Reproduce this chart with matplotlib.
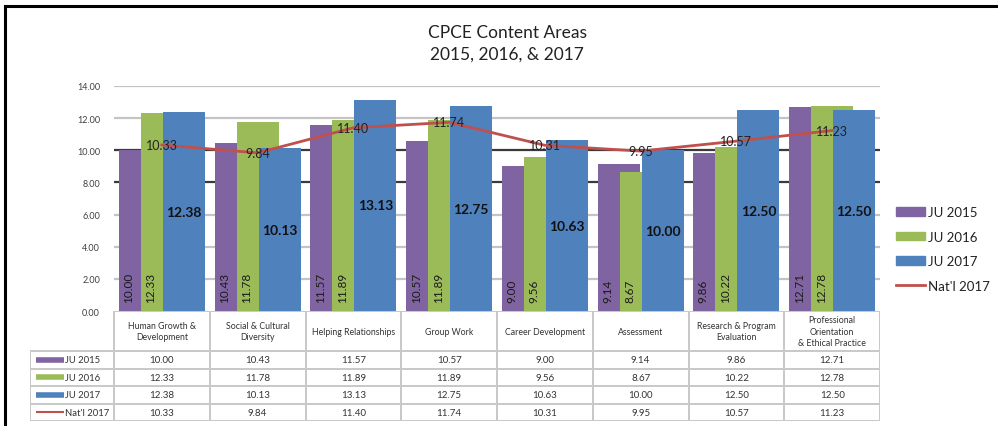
import numpy as np
import matplotlib
matplotlib.use("Agg")
import matplotlib.pyplot as plt
from matplotlib.patches import Patch
from matplotlib.lines import Line2D

plt.rcParams['font.family'] = ['Lato', 'DejaVu Sans']

categories = ["Human Growth &\nDevelopment", "Social & Cultural\nDiversity",
              "Helping Relationships", "Group Work", "Career Development",
              "Assessment", "Research & Program\nEvaluation",
              "Professional\nOrientation\n& Ethical Practice"]
ju2015 = [10.00, 10.43, 11.57, 10.57, 9.00, 9.14, 9.86, 12.71]
ju2016 = [12.33, 11.78, 11.89, 11.89, 9.56, 8.67, 10.22, 12.78]
ju2017 = [12.38, 10.13, 13.13, 12.75, 10.63, 10.00, 12.50, 12.50]
natl2017 = [10.33, 9.84, 11.40, 11.74, 10.31, 9.95, 10.57, 11.23]
series_names = ["JU 2015", "JU 2016", "JU 2017", "Nat'l 2017"]
yticks = [0, 2, 4, 6, 8, 10, 12, 14]

purple, green, blue, red = "#8064A2", "#9BBB59", "#4F81BD", "#C0504D"

W, H = 998, 427
fig = plt.figure(figsize=(W / 100, H / 100), dpi=100)

# outer frame (top and left edges only)
fig.add_artist(Line2D([5 / W, 1], [1 - 7 / H, 1 - 7 / H], color="black", lw=2.2))
fig.add_artist(Line2D([5 / W, 5 / W], [0, 1 - 7 / H], color="black", lw=2.2))

fig.text(507 / W, 1 - 44 / H, "CPCE Content Areas\n2015, 2016, & 2017",
         ha="center", va="center", fontsize=12.5, color="#222222", linespacing=1.45)

ax = fig.add_axes([114 / W, 1 - 312 / H, (880 - 114) / W, (312 - 87) / H])
x = np.arange(len(categories))
bw, step = 0.44, 0.23

ax.bar(x - step, ju2015, bw, color=purple, zorder=2)
ax.bar(x, ju2016, bw, color=green, zorder=3)
ax.bar(x + step, ju2017, bw, color=blue, zorder=4)
ax.plot(x, natl2017, color=red, lw=2, zorder=5)

for i in range(len(x)):
    ax.text(x[i] - 0.345, 0.55, f"{ju2015[i]:.2f}", rotation=90, ha="center", va="bottom",
            fontsize=8.5, color="#1a1a1a", zorder=6)
    ax.text(x[i] - 0.115, 0.55, f"{ju2016[i]:.2f}", rotation=90, ha="center", va="bottom",
            fontsize=8.5, color="#1a1a1a", zorder=6)
    ax.text(x[i] + step, ju2017[i] / 2, f"{ju2017[i]:.2f}", ha="center", va="center",
            fontsize=10, fontweight="bold", color="#111111", zorder=6)
    ax.text(x[i], natl2017[i], f"{natl2017[i]:.2f}", ha="center", va="center",
            fontsize=9, color="#222222", zorder=7)

ax.set_xlim(-0.5, len(categories) - 0.5)
ax.set_ylim(0, 14)
ax.set_yticks(yticks)
ax.set_yticklabels([f"{t:.2f}" for t in yticks], fontsize=6.5, color="#404040")
ax.tick_params(axis="y", length=0, pad=10)
ax.set_xticks([])
for t in yticks[1:]:
    c = "#3a3a3a" if t in (8, 10) else "#c4c4c4"
    ax.axhline(t, color=c, lw=1.6, zorder=1)
for s in ax.spines.values():
    s.set_visible(False)

# data table below the plot
key_w = (114 - 30) / 95.75
header_h = 2.3
tab = fig.add_axes([30 / W, 1 - 422 / H, (880 - 30) / W, (422 - 312) / H])
tab.set_xlim(-0.5 - key_w, len(categories) - 0.5)
tab.set_ylim(header_h + 4, 0)
tab.axis("off")
lc, lw = "#c8c8c8", 1.4
tab.plot([-0.5, len(categories) - 0.5], [0, 0], color=lc, lw=lw)
for r in range(5):
    tab.plot([-0.5 - key_w, len(categories) - 0.5], [header_h + r] * 2, color=lc, lw=lw)
for c in range(len(categories) + 1):
    tab.plot([c - 0.5] * 2, [0, header_h + 4], color=lc, lw=lw)
tab.plot([-0.5 - key_w] * 2, [header_h, header_h + 4], color=lc, lw=lw)

for i, cat in enumerate(categories):
    tab.text(i, header_h / 2, cat, ha="center", va="center", fontsize=6.3,
             color="#333333", linespacing=1.3)

rows = [ju2015, ju2016, ju2017, natl2017]
keys = [(purple, 4), (green, 4), (blue, 4), (red, 1.5)]
for r, vals in enumerate(rows):
    yc = header_h + r + 0.5
    col, klw = keys[r]
    tab.plot([-0.5 - key_w + 0.06, -0.5 - key_w + 0.35], [yc, yc], color=col, lw=klw,
             solid_capstyle="butt")
    tab.text(-0.5 - key_w + 0.37, yc, series_names[r], ha="left", va="center",
             fontsize=6.8, color="#333333")
    for i, v in enumerate(vals):
        tab.text(i, yc, f"{v:.2f}", ha="center", va="center", fontsize=7, color="#333333")

handles = [Patch(color=purple), Patch(color=green), Patch(color=blue),
           Line2D([], [], color=red, lw=2)]
fig.legend(handles, series_names, loc="center left", bbox_to_anchor=(892 / W, 1 - 250 / H),
           frameon=False, fontsize=9.5, handlelength=2.2, handleheight=0.6,
           labelspacing=0.95, handletextpad=0.25, labelcolor="#222222",
           borderaxespad=0, borderpad=0.3)

fig.savefig("out.png", dpi=100)
